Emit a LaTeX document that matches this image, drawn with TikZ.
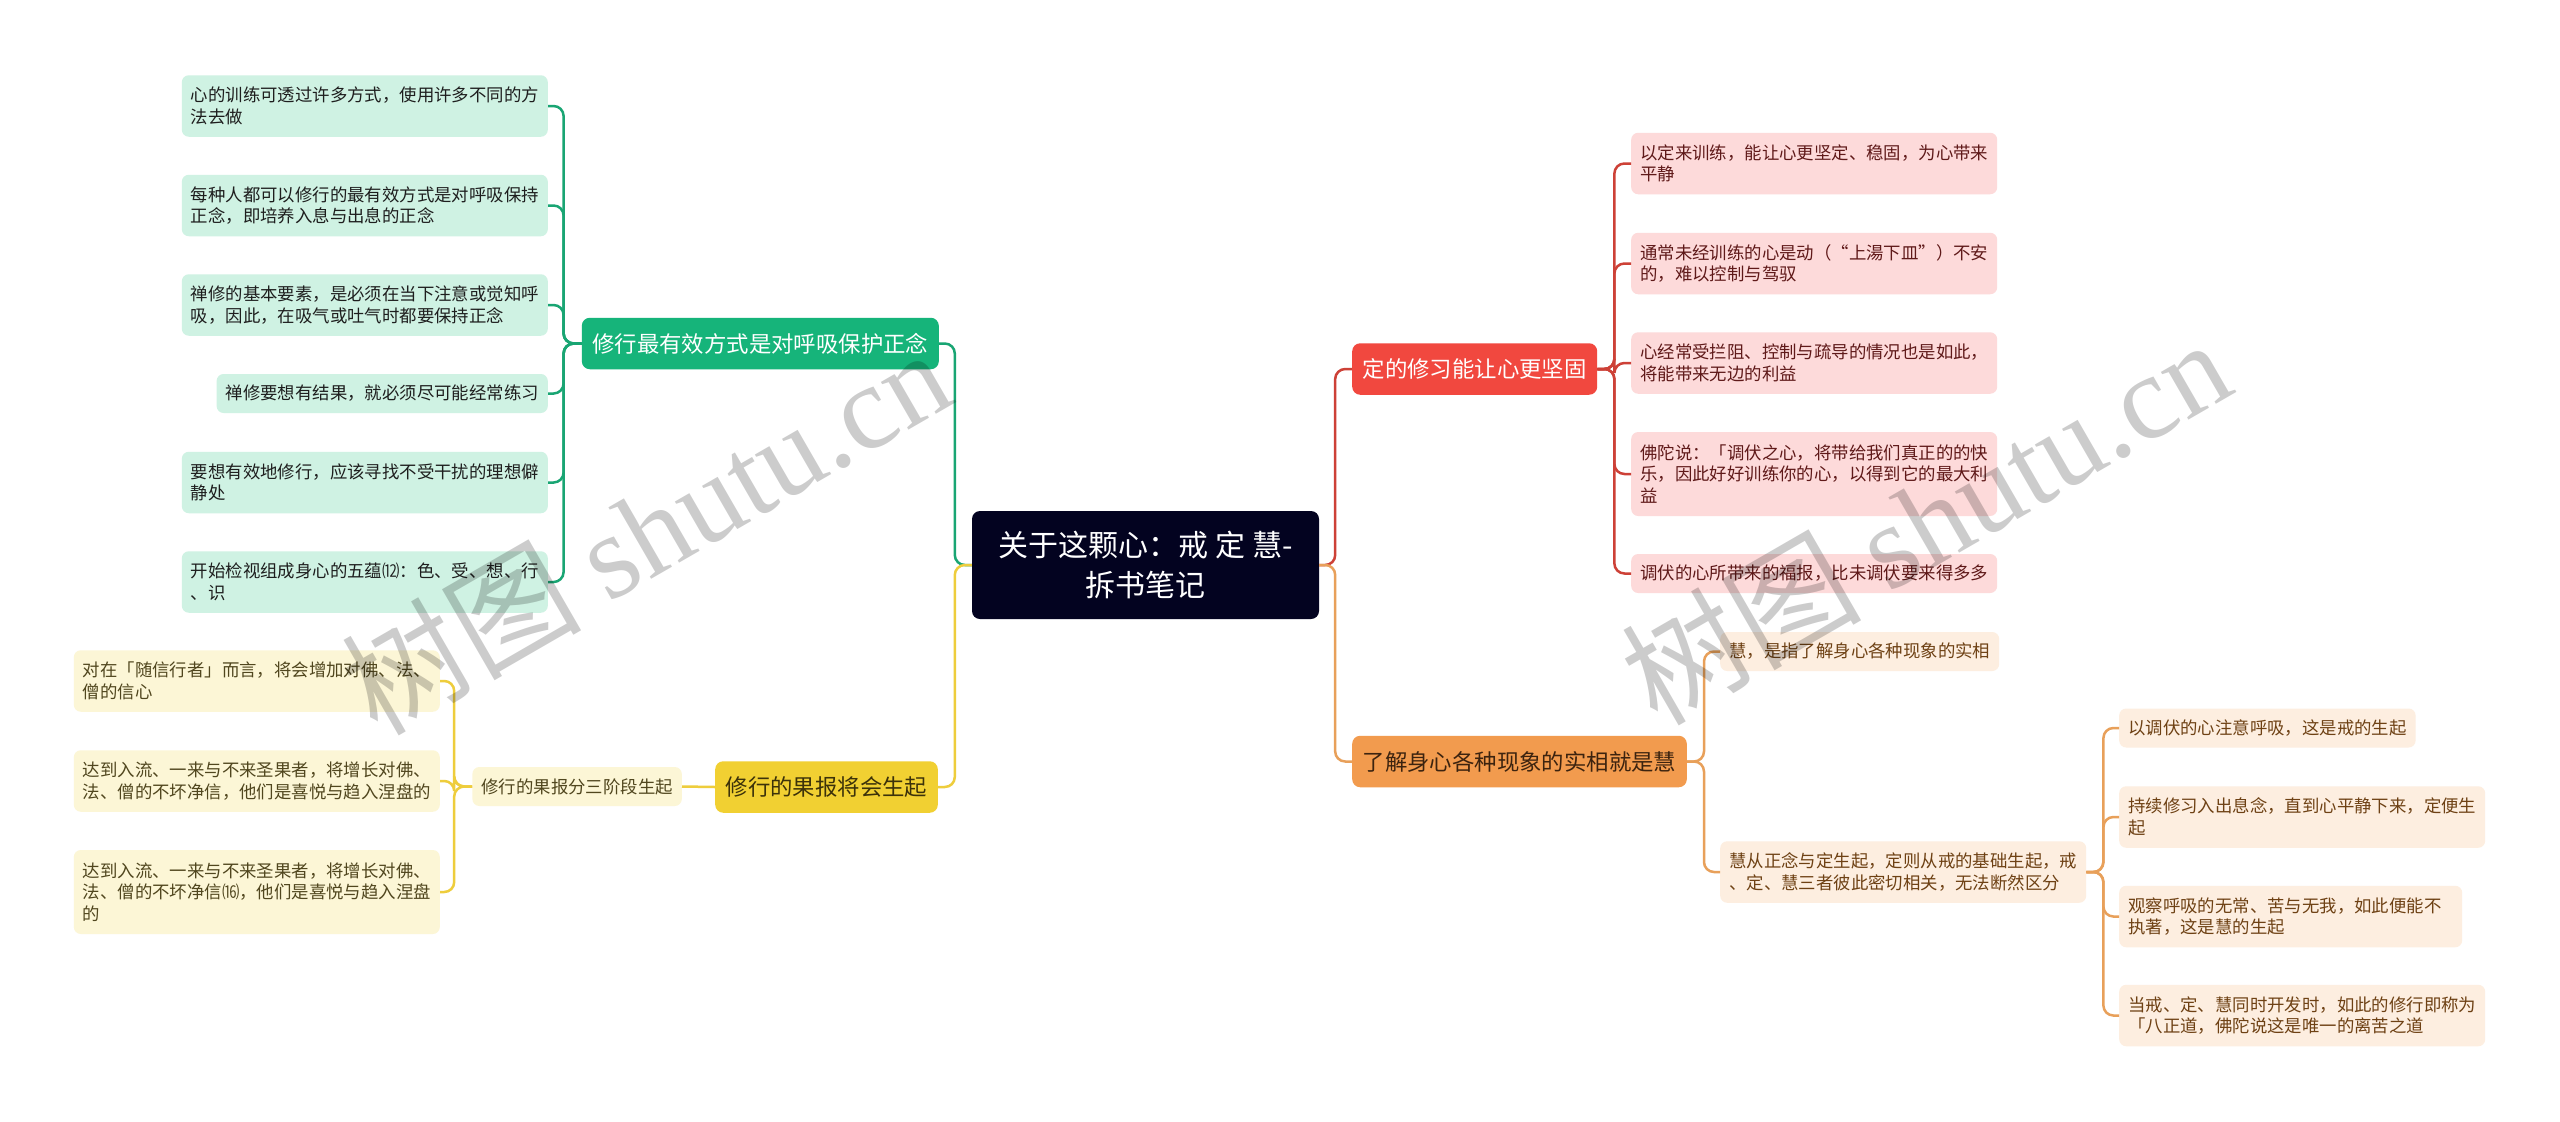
\documentclass[tikz,border=0pt]{standalone}
\usepackage{fontspec}
\setmainfont{Noto Sans CJK SC}
\newfontfamily\wmfont{Liberation Serif}
\usepackage{tikz}
\definecolor{hubbg}{RGB}{3,3,32}
\definecolor{gmainbg}{RGB}{22,180,122}
\definecolor{gedge}{RGB}{25,165,115}
\definecolor{gleafbg}{RGB}{207,242,227}
\definecolor{gleaftx}{RGB}{30,30,30}
\definecolor{rmainbg}{RGB}{241,72,63}
\definecolor{redge}{RGB}{205,65,55}
\definecolor{rleafbg}{RGB}{253,218,218}
\definecolor{rleaftx}{RGB}{95,25,25}
\definecolor{omainbg}{RGB}{242,155,78}
\definecolor{omaintx}{RGB}{60,35,15}
\definecolor{oedge}{RGB}{232,160,90}
\definecolor{oleafbg}{RGB}{253,238,224}
\definecolor{oleaftx}{RGB}{110,65,20}
\definecolor{ymainbg}{RGB}{241,208,50}
\definecolor{ymaintx}{RGB}{60,50,10}
\definecolor{yedge}{RGB}{238,205,60}
\definecolor{yleafbg}{RGB}{252,246,214}
\definecolor{yleaftx}{RGB}{80,70,30}
\newcommand{\fork}[4]{
	\foreach \kid in {#4} {
		\draw[#1] (#2) -- ++(#3,0) |- (\kid);
	}
}

\begin{document}
\begin{tikzpicture}[x=1pt,y=-1pt,
	hub/.style={fill=hubbg, text=white, rounded corners=8, minimum width=347, minimum height=108, inner sep=0, align=center, font=\fontsize{30}{40}\selectfont},
	topic/.style={rounded corners=8, inner xsep=10.5, inner ysep=0, minimum height=51.5, font=\fontsize{22.4}{27}\selectfont},
	leaf/.style={rounded corners=7, inner xsep=9, inner ysep=0, align=left, font=\fontsize{17.4}{21.5}\selectfont},
	l1/.style={minimum height=39}, l2/.style={minimum height=61.5}, l3/.style={minimum height=84},
	gleaf/.style={leaf, fill=gleafbg, text=gleaftx, anchor=east},
	yleaf/.style={leaf, fill=yleafbg, text=yleaftx, anchor=east},
	rleaf/.style={leaf, fill=rleafbg, text=rleaftx, anchor=west},
	oleaf/.style={leaf, fill=oleafbg, text=oleaftx, anchor=west},
	link/.style={line width=2.5, rounded corners=10},
	gline/.style={link, draw=gedge}, yline/.style={link, draw=yedge},
	rline/.style={link, draw=redge}, oline/.style={link, draw=oedge},
	wmark/.style={rotate=30, text=black, opacity=0.2, font=\fontsize{120}{120}\selectfont}]
	\path[use as bounding box, fill=white] (0,0) rectangle (2560,1122);

	\node[hub] (hub) at (1145.5,565) {关于这颗心：戒 定 慧-\\拆书笔记};

	\node[topic, fill=gmainbg, text=white, anchor=east] (gm) at (939,343.5) {修行最有效方式是对呼吸保护正念};
	\node[gleaf, l2] (g1) at (548,106) {心的训练可透过许多方式，使用许多不同的方\\法去做};
	\node[gleaf, l2] (g2) at (548,205.5) {每种人都可以修行的最有效方式是对呼吸保持\\正念，即培养入息与出息的正念};
	\node[gleaf, l2] (g3) at (548,305) {禅修的基本要素，是必须在当下注意或觉知呼\\吸，因此，在吸气或吐气时都要保持正念};
	\node[gleaf, l1] (g4) at (548,393.5) {禅修要想有结果，就必须尽可能经常练习};
	\node[gleaf, l2] (g5) at (548,482.5) {要想有效地修行，应该寻找不受干扰的理想僻\\静处};
	\node[gleaf, l2] (g6) at (548,582) {开始检视组成身心的五蕴⑿：色、受、想、行\\、识};

	\node[topic, fill=ymainbg, text=ymaintx, anchor=east] (ym) at (938,787) {修行的果报将会生起};
	\node[yleaf, l1] (ys) at (682,786.5) {修行的果报分三阶段生起};
	\node[yleaf, l2] (y1) at (440,681) {对在「随信行者」而言，将会增加对佛、法、\\僧的信心};
	\node[yleaf, l2] (y2) at (440,781) {达到入流、一来与不来圣果者，将增长对佛、\\法、僧的不坏净信，他们是喜悦与趋入涅盘的};
	\node[yleaf, l3] (y3) at (440,892) {达到入流、一来与不来圣果者，将增长对佛、\\法、僧的不坏净信⒃，他们是喜悦与趋入涅盘\\的};

	\node[topic, fill=rmainbg, text=white, anchor=west] (rm) at (1352,369) {定的修习能让心更坚固};
	\node[rleaf, l2] (r1) at (1631,163.5) {以定来训练，能让心更坚定、稳固，为心带来\\平静};
	\node[rleaf, l2] (r2) at (1631,263.5) {通常未经训练的心是动（“上湯下皿”）不安\\的，难以控制与驾驭};
	\node[rleaf, l2] (r3) at (1631,363) {心经常受拦阻、控制与疏导的情况也是如此，\\将能带来无边的利益};
	\node[rleaf, l3] (r4) at (1631,474) {佛陀说：「调伏之心，将带给我们真正的的快\\乐，因此好好训练你的心，以得到它的最大利\\益};
	\node[rleaf, l1] (r5) at (1631,573.5) {调伏的心所带来的福报，比未调伏要来得多多};

	\node[topic, fill=omainbg, text=omaintx, anchor=west] (om) at (1352,761.5) {了解身心各种现象的实相就是慧};
	\node[oleaf, l1] (o1) at (1720,651.5) {慧，是指了解身心各种现象的实相};
	\node[oleaf, l2] (o2) at (1720,872) {慧从正念与定生起，定则从戒的基础生起，戒\\、定、慧三者彼此密切相关，无法断然区分};
	\node[oleaf, l1] (s1) at (2119,728) {以调伏的心注意呼吸，这是戒的生起};
	\node[oleaf, l2] (s2) at (2119,817) {持续修习入出息念，直到心平静下来，定便生\\起};
	\node[oleaf, l2, text width=325] (s3) at (2119,916.5) {观察呼吸的无常、苦与无我，如此便能不\\执著，这是慧的生起};
	\node[oleaf, l2] (s4) at (2119,1015.5) {当戒、定、慧同时开发时，如此的修行即称为\\「八正道，佛陀说这是唯一的离苦之道};

	\fork{gline}{hub.west}{-17}{gm.east}
	\fork{yline}{hub.west}{-17}{ym.east}
	\fork{rline}{hub.east}{16}{rm.west}
	\fork{oline}{hub.east}{16}{om.west}
	\fork{gline}{gm.west}{-18}{g1.east,g2.east,g3.east,g4.east,g5.east,g6.east}
	\draw[yline] (ym.west) -- (ys.east);
	\fork{yline}{ys.west}{-18}{y1.east,y2.east,y3.east}
	\fork{rline}{rm.east}{17}{r1.west,r2.west,r3.west,r4.west,r5.west}
	\fork{oline}{om.east}{17}{o1.west,o2.west}
	\fork{oline}{o2.east}{17}{s1.west,s2.west,s3.west,s4.west}

	\node[wmark] (wm1) at (645,530) {树图 {\wmfont shutu.cn}};
	\node[wmark] (wm2) at (1925,520) {树图 {\wmfont shutu.cn}};
\end{tikzpicture}
\end{document}
